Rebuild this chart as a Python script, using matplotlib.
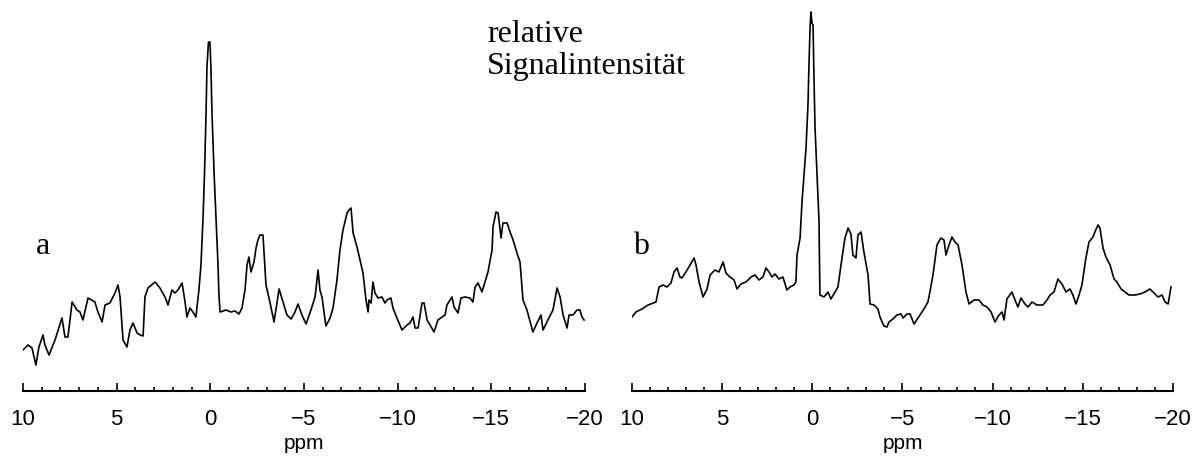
import matplotlib.pyplot as plt
from matplotlib.ticker import MultipleLocator

# spectrum a: chemical shift (ppm) and relative signal intensity (arb. units)
ppm_a = [10.00, 9.73, 9.52, 9.31, 9.15, 8.93, 8.83, 8.61, 8.29, 7.92, 7.76, 7.60, 7.38, 7.12,
         6.96, 6.80, 6.53, 6.16, 6.00, 5.78, 5.62, 5.36, 5.09, 4.93, 4.82, 4.66, 4.45, 4.29,
         4.13, 3.91, 3.75, 3.59, 3.49, 3.33, 2.95, 2.69, 2.42, 2.26, 2.05, 1.89, 1.73, 1.51,
         1.35, 1.25, 1.09, 0.93, 0.77, 0.61, 0.50, 0.39, 0.31, 0.23, 0.18, 0.10, 0.02, -0.03,
         -0.09, -0.20, -0.30, -0.41, -0.46, -0.52, -0.84, -1.10, -1.32, -1.53, -1.69, -1.85,
         -1.96, -2.06, -2.17, -2.33, -2.44, -2.54, -2.65, -2.81, -2.97, -3.18, -3.40, -3.67,
         -3.88, -4.09, -4.31, -4.52, -4.68, -4.89, -5.11, -5.37, -5.59, -5.75, -5.85, -5.96,
         -6.17, -6.39, -6.55, -6.76, -6.92, -7.08, -7.30, -7.40, -7.51, -7.62, -7.83, -7.99,
         -8.15, -8.31, -8.42, -8.47, -8.58, -8.68, -8.79, -8.95, -9.16, -9.32, -9.43, -9.64,
         -9.75, -9.96, -10.23, -10.50, -10.66, -10.82, -10.93, -11.09, -11.30, -11.41, -11.57,
         -11.73, -11.94, -12.15, -12.37, -12.53, -12.63, -12.90, -13.01, -13.22, -13.38,
         -13.59, -13.86, -14.02, -14.13, -14.29, -14.50, -14.66, -14.82, -15.04, -15.09,
         -15.25, -15.36, -15.52, -15.62, -15.84, -16.00, -16.16, -16.37, -16.53, -16.69,
         -16.90, -17.22, -17.44, -17.65, -17.76, -18.02, -18.29, -18.51, -18.67, -18.83,
         -19.04, -19.15, -19.36, -19.57, -19.73, -19.84, -19.95]
int_a = [41, 46, 43, 26, 44, 56, 46, 36, 51, 73, 54, 54, 89, 81,
         79, 71, 93, 89, 79, 69, 86, 88, 98, 106, 94, 51, 44, 61,
         68, 58, 56, 55, 94, 103, 109, 103, 94, 86, 101, 98, 101, 108,
         89, 74, 83, 79, 74, 101, 126, 173, 218, 277, 324, 349, 349, 324,
         277, 218, 173, 126, 96, 79, 81, 79, 80, 77, 83, 101,
         126, 134, 119, 129, 143, 151, 156, 156, 106, 89, 69, 102,
         89, 76, 72, 79, 87, 76, 67, 81, 94, 121, 101, 94,
         65, 73, 83, 111, 141, 161, 178, 181, 183, 158, 144, 131,
         118, 91, 79, 91, 88, 109, 98, 93, 94, 88, 91, 93,
         83, 73, 61, 66, 68, 74, 63, 63, 88, 88, 71,
         66, 59, 71, 74, 76, 86, 94, 84, 78, 93,
         94, 93, 89, 104, 108, 99, 109, 119, 141, 164,
         179, 178, 153, 168, 168, 159, 151, 138, 129, 91,
         81, 59, 68, 76, 61, 71, 81, 103, 94, 76,
         63, 76, 76, 81, 81, 74, 71]

# spectrum b
ppm_b = [10.00, 9.78, 9.45, 9.11, 8.67, 8.50, 8.28, 8.06, 7.84, 7.67, 7.50, 7.34, 7.23, 7.01,
         6.78, 6.56, 6.45, 6.28, 6.06, 5.84, 5.67, 5.40, 5.18, 4.95, 4.79, 4.57, 4.34, 4.18,
         3.96, 3.68, 3.40, 3.18, 2.96, 2.74, 2.57, 2.40, 2.24, 2.07, 1.85, 1.63, 1.41, 1.24,
         1.02, 0.91, 0.85, 0.68, 0.57, 0.35, 0.24, 0.19, 0.13, 0.08, 0.02, -0.04, -0.09, -0.15,
         -0.26, -0.31, -0.37, -0.42, -0.65, -0.87, -1.03, -1.20, -1.42, -1.59, -1.81, -1.98,
         -2.14, -2.25, -2.42, -2.53, -2.70, -2.86, -3.09, -3.20, -3.42, -3.64, -3.75, -3.97,
         -4.14, -4.25, -4.47, -4.69, -4.92, -5.03, -5.25, -5.42, -5.64, -5.97, -6.19, -6.41,
         -6.52, -6.69, -6.91, -7.13, -7.30, -7.41, -7.58, -7.74, -7.91, -8.08, -8.30, -8.52,
         -8.69, -8.96, -9.24, -9.46, -9.69, -9.91, -10.13, -10.35, -10.52, -10.63, -10.79,
         -11.07, -11.24, -11.40, -11.57, -11.79, -11.96, -12.18, -12.46, -12.79, -13.01,
         -13.18, -13.40, -13.62, -13.84, -14.07, -14.29, -14.45, -14.62, -14.79, -14.95,
         -15.17, -15.34, -15.56, -15.67, -15.84, -15.95, -16.12, -16.28, -16.51, -16.73,
         -16.89, -17.12, -17.34, -17.56, -17.89, -18.17, -18.45, -18.72, -18.95, -19.17,
         -19.39, -19.56, -19.73, -19.89]
int_b = [74, 79, 82, 86, 89, 104, 106, 104, 108, 119, 123, 114, 113, 119,
         126, 133, 126, 109, 94, 102, 116, 121, 119, 129, 118, 114, 111, 102,
         107, 109, 114, 116, 111, 114, 123, 119, 114, 117, 112, 114, 101, 104,
         106, 109, 136, 153, 190, 243, 287, 324, 361, 379, 368, 366, 314, 263,
         217, 196, 170, 96, 94, 99, 92, 97, 104, 126, 153, 163,
         157, 136, 133, 156, 159, 139, 116, 87, 86, 82, 74, 65,
         64, 69, 72, 76, 77, 73, 77, 77, 67, 76, 82, 89,
         99, 116, 146, 153, 151, 136, 146, 154, 149, 146, 126, 99,
         87, 91, 91, 86, 84, 79, 69, 76, 79, 71, 92,
         99, 91, 84, 93, 87, 84, 89, 86, 86, 91,
         96, 99, 112, 107, 99, 102, 96, 87, 96, 106,
         133, 149, 154, 159, 166, 163, 143, 134, 126, 112,
         109, 102, 99, 96, 96, 97, 99, 102, 98, 94,
         96, 89, 87, 104]

W, H = 1201, 459
fig = plt.figure(figsize=(W / 100, H / 100), dpi=100)

panels = [(ppm_a, int_a, 23, 585, "a", 43),
          (ppm_b, int_b, 632, 1173, "b", 641)]

for ppm, inten, x0, x1, tag, tagx in panels:
    ax = fig.add_axes([x0 / W, 68 / H, (x1 - x0) / W, 391 / H])
    ax.plot(ppm, inten, color="black", lw=1.2)
    ax.set_xlim(10, -20)
    ax.set_ylim(0, 391)
    for s in ["top", "left", "right"]:
        ax.spines[s].set_visible(False)
    ax.spines["bottom"].set_linewidth(1.5)
    ax.set_yticks([])
    ax.xaxis.set_major_locator(MultipleLocator(5))
    ax.xaxis.set_minor_locator(MultipleLocator(1))
    ax.tick_params(axis="x", which="major", direction="in", length=6, width=1.2,
                   pad=13, labelsize=16)
    ax.tick_params(axis="x", which="minor", direction="in", length=3, width=1.2)
    for lab in ax.get_xticklabels():
        lab.set_fontfamily("Liberation Sans")
    ax.set_xlabel("ppm", fontsize=15, family="Liberation Sans", labelpad=3)
    ax.patch.set_alpha(0)
    fig.text(tagx / W, 1 - 246 / H, tag, fontsize=23, family="Liberation Serif",
             ha="center", va="center")

fig.text(487 / W, 1 - 20 / H, "relative\nSignalintensität", fontsize=23,
         family="Liberation Serif", ha="left", va="top", linespacing=1.12)

fig.savefig("out.png", dpi=100)
